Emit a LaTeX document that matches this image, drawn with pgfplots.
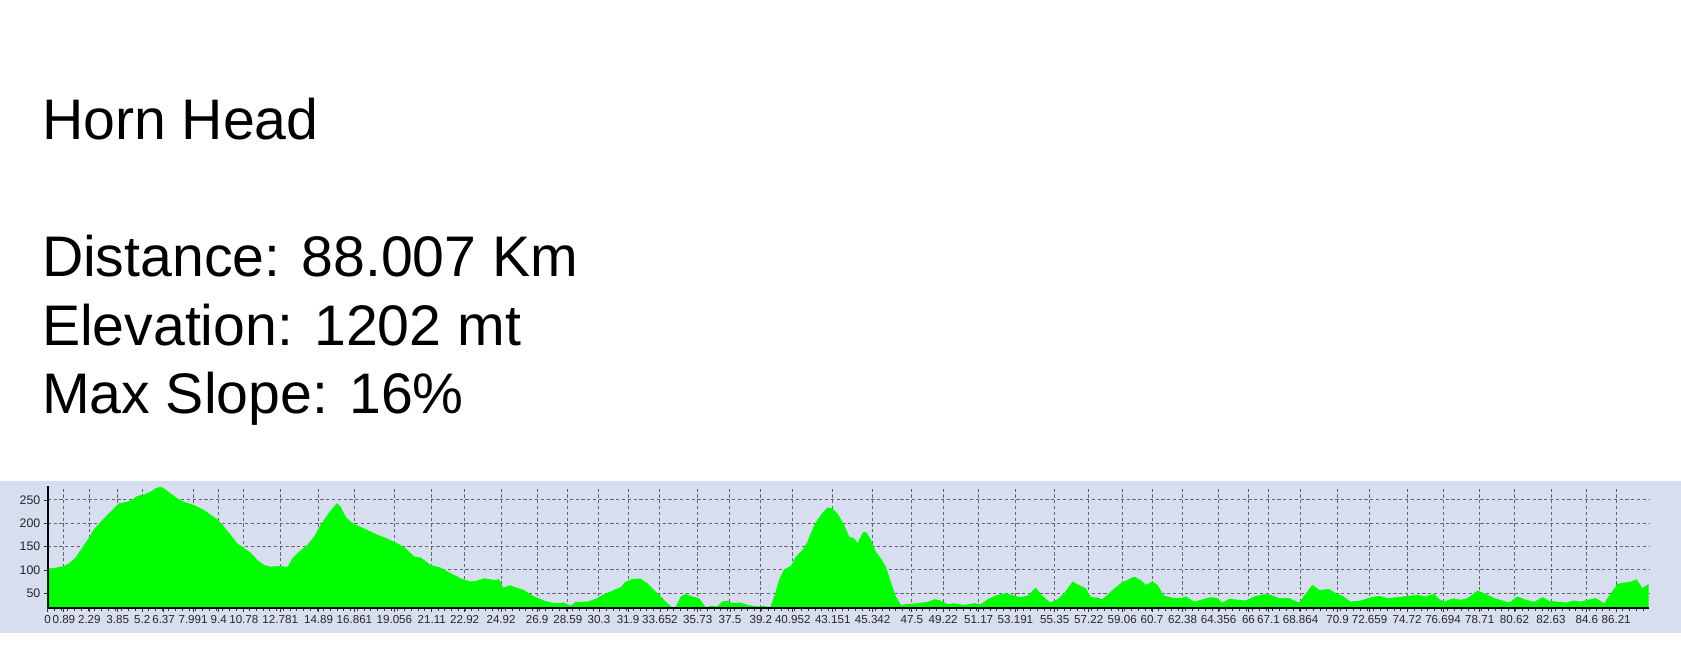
\documentclass[border=0pt]{standalone}
\usepackage{pgfplots}
\pgfplotsset{compat=1.18}
\usepackage{pgfplotstable}
\usepackage{fontspec}
\setmainfont{Liberation Sans}
\definecolor{panel}{RGB}{214,222,240}
\definecolor{elev}{RGB}{0,255,0}
\pgfplotstableread{
km elev
0 103
0.35 104
0.9 108.6
1.17 114
1.54 127
1.81 143
2.18 164
2.54 187
3.0 207
3.46 225
3.92 243
4.38 246
4.65 251
4.93 258.6
5.29 262
5.66 268
5.93 275
6.21 278.6
6.39 275
6.76 264
7.13 253.6
7.49 246
8.04 239
8.59 228.6
8.96 218
9.33 208.6
9.69 193
10.06 175
10.42 157
10.79 146.5
11.16 137
11.52 121.5
11.89 110.7
12.26 107
12.81 108.6
13.17 105.7
13.45 125
13.81 139
14.27 153.6
14.64 171.5
15.0 196.5
15.37 218
15.65 232
15.89 243
16.1 236
16.38 214
16.65 203.6
17.1 194
17.57 185.7
18.03 177
18.49 170
18.85 164
19.22 157
19.68 146.5
20.14 128.6
20.51 126.5
21.05 110.7
21.6 105
22.15 93
22.7 82
23.25 75
23.53 76.4
23.99 82
24.54 78.6
24.81 80
25.05 62
25.4 67
25.63 64
26.18 57
26.73 43
27.28 34.4
27.83 28.6
28.38 30
28.75 23
29.02 31.5
29.67 32
30.12 38
30.58 48
31.13 57
31.5 63
31.77 75
32.14 80.7
32.59 81.5
32.96 71.5
33.33 57
33.7 43
34.06 28.6
34.34 19.5
34.52 21.5
34.8 43
35.07 48.6
35.44 43
35.8 39.4
36.08 25
36.17 19.5
36.44 23
36.81 21.5
37.08 32
37.36 34
37.63 28.6
38.1 30
38.46 25
39.0 21.5
39.38 23
39.71 19.5
39.93 43
40.2 78.6
40.48 101.5
40.85 108.6
41.12 128.6
41.49 143
41.76 160.7
42.13 196.5
42.49 218
42.86 234
43.13 232
43.41 221
43.78 196.5
44.05 171.5
44.33 168
44.51 157
44.79 180
44.97 182
45.24 165.7
45.52 139
45.79 125
46.07 107
46.34 75
46.62 43
46.89 25
47.26 27
47.81 28.6
48.36 31.5
48.73 37
49.09 34.4
49.46 26.5
49.82 28.6
50.37 25
50.92 28.6
51.29 27
51.75 39
52.21 46.5
52.67 50
53.03 46.5
53.4 41.5
53.85 44.3
54.31 62
54.68 44.3
55.1 30
55.5 37
55.87 50
56.33 75
56.79 65.8
57.06 60.8
57.34 41.5
57.7 40.8
57.98 37
58.43 53.6
58.98 71.5
59.35 78.6
59.72 85.7
60.08 78.6
60.36 68
60.73 75
61.0 68
61.37 44.3
61.92 39.4
62.28 39.4
62.56 43
63.02 32
63.39 36
63.94 41.5
64.3 39.4
64.57 30
64.94 38
65.4 36
65.86 34.4
66.31 43
66.86 48
67.23 46.5
67.69 39.4
68.24 39.4
68.79 30
69.16 50
69.52 68
69.89 57
70.44 59
70.81 50
71.17 44.3
71.63 32
72.18 34.4
72.73 41.5
73.19 44.3
73.65 39.4
74.2 41.5
74.75 44.3
75.3 46.5
75.69 43
76.21 48.6
76.49 37
76.76 32
77.22 38.6
77.68 36
78.04 39.4
78.59 56
78.96 50
79.51 39.4
79.97 34.4
80.33 30
80.79 43
81.16 37
81.71 31.5
82.17 41.5
82.53 33.6
82.99 32
83.45 30
83.9 34.4
84.27 32
84.64 36
85.09 39.4
85.55 28.6
85.92 50
86.28 70
86.65 73
87.01 75
87.34 80
87.65 61
87.96 69
88.0 69
}\profile
\begin{document}
\begin{tikzpicture}
\useasboundingbox (0,0) rectangle (840.5pt,330pt);
\fill[white] (0,0) rectangle (840.5pt,330pt);
\fill[panel] (0,13.5pt) rectangle (840.5pt,89.5pt);
\begin{scope}[every node/.style={anchor=base west, inner sep=0pt, font=\fontsize{28.6}{34}\selectfont}]
\node at (20.8pt,260.3pt) {Horn Head};
\node at (20.8pt,191.7pt) {Distance: 88.007 Km};
\node at (20.8pt,157.4pt) {Elevation: 1202 mt};
\node at (20.8pt,123.1pt) {Max Slope: 16\%};
\end{scope}
\begin{axis}[
  at={(23.85pt,26.15pt)}, anchor=south west,
  scale only axis, width=800.5pt, height=60.85pt,
  xmin=0, xmax=88.0, ymin=19, ymax=280,
  axis x line*=bottom, axis y line*=left,
  axis line style={black, line width=1pt, -},
  xtick={0,0.89,2.29,3.85,5.2,6.37,7.991,9.4,10.78,12.781,14.89,16.861,19.056,21.11,22.92,24.92,26.9,28.59,30.3,31.9,33.652,35.73,37.5,39.2,40.952,43.151,45.342,47.5,49.22,51.17,53.191,55.35,57.22,59.06,60.7,62.38,64.356,66,67.1,68.864,70.9,72.659,74.72,76.694,78.71,80.62,82.63,84.6,86.21},
  xticklabels={0,0.89,2.29,3.85,5.2,6.37,7.991,9.4,10.78,12.781,14.89,16.861,19.056,21.11,22.92,24.92,26.9,28.59,30.3,31.9,33.652,35.73,37.5,39.2,40.952,43.151,45.342,47.5,49.22,51.17,53.191,55.35,57.22,59.06,60.7,62.38,64.356,66,67.1,68.864,70.9,72.659,74.72,76.694,78.71,80.62,82.63,84.6,86.21},
  minor xtick={0,0.37,...,88},
  ytick={50,100,150,200,250},
  grid=major,
  major grid style={black!60, line width=0.5pt, dash pattern=on 1.6pt off 1.3pt},
  tick align=outside, major tick length=2pt, minor tick length=1.5pt,
  tick style={black!80, line width=0.4pt},
  xticklabel style={font=\fontsize{5.8}{6.5}\selectfont, text=black!85, inner sep=1.5pt},
  yticklabel style={font=\fontsize{6.2}{7}\selectfont, text=black!85, inner sep=1.5pt},
  /pgf/number format/assume math mode=true,
]
\addplot[fill=elev, draw=none] table[x=km, y=elev] {\profile} \closedcycle;
\draw[black, line width=1pt] (rel axis cs:0,1) -- (rel axis cs:0,0) -- (rel axis cs:1,0);
\end{axis}
\end{tikzpicture}
\end{document}
